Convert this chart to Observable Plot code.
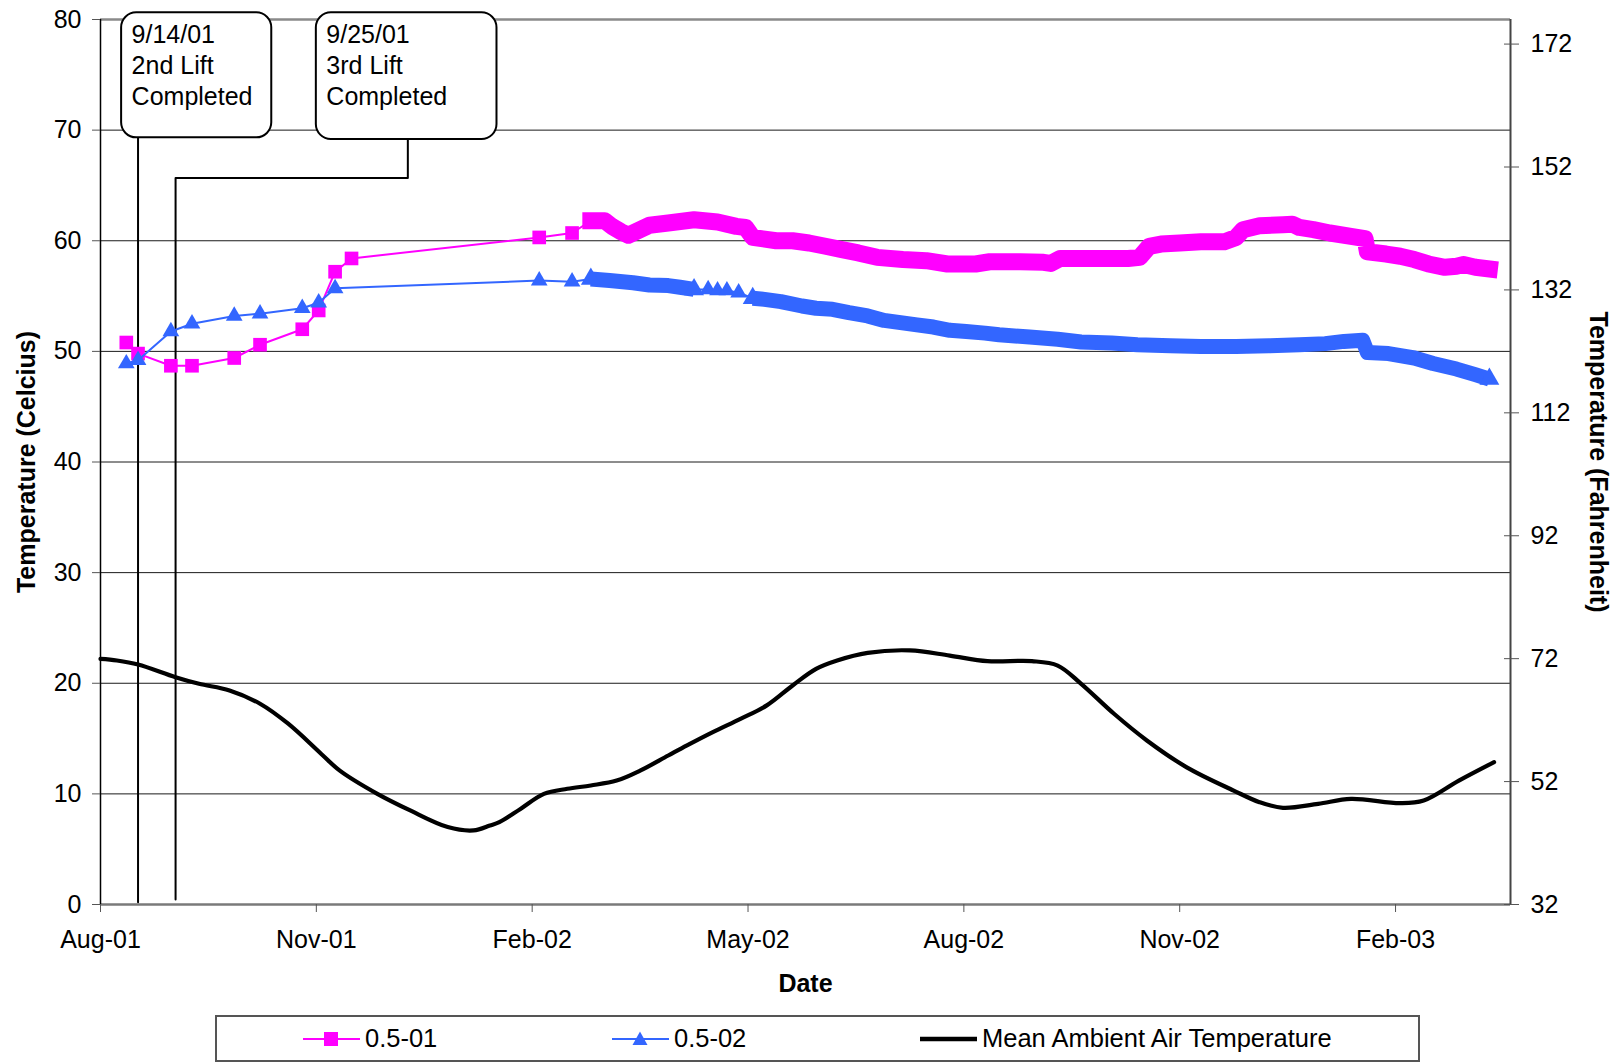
<!DOCTYPE html>
<html><head><meta charset="utf-8">
<script src="https://cdn.jsdelivr.net/npm/d3@7"></script>
<script src="https://cdn.jsdelivr.net/npm/@observablehq/plot@0.6"></script>
<style>
body{margin:0;background:#fff;font-family:"Liberation Sans",Arial,sans-serif;}
#wrap{position:relative;width:1621px;height:1063px;overflow:hidden;}
#chart svg{display:block;overflow:visible;}
#legend{position:absolute;left:215px;top:1015px;width:1205px;height:47px;border:2px solid #555;box-sizing:border-box;}
.item{position:absolute;top:0;height:100%;display:flex;align-items:center;font-size:25.5px;color:#000;white-space:nowrap;font-family:"Liberation Sans",Arial,sans-serif;}
.item svg{margin-right:5px;}
</style></head><body><div id="wrap"><div id="chart"></div><div id="legend"></div></div>
<script>
// ---------- data ----------
const xDomain = ["2001-08-01", "2003-03-25"];
const xTickDates = ["2001-08-01","2001-11-01","2002-02-01","2002-05-04","2002-08-04","2002-11-04","2003-02-04"];
const xTickLabels = ["Aug-01","Nov-01","Feb-02","May-02","Aug-02","Nov-02","Feb-03"];
const yTicks = [0,10,20,30,40,50,60,70,80];
const fahrenheitTicks = [32,52,72,92,112,132,152,172];

const pinkEarlyDates = ["2001-08-12","2001-08-17","2001-08-31","2001-09-09","2001-09-27","2001-10-08","2001-10-26","2001-11-02","2001-11-09","2001-11-16","2002-02-04","2002-02-18"];
const pinkEarlyValues = [50.8,49.8,48.7,48.7,49.4,50.6,52.0,53.7,57.2,58.4,60.3,60.7];
const pinkDenseDates = ["2002-02-26","2002-03-04","2002-03-07","2002-03-11","2002-03-14","2002-03-18","2002-03-23","2002-03-31","2002-04-11","2002-04-21","2002-04-29","2002-05-03","2002-05-06","2002-05-16","2002-05-23","2002-05-30","2002-06-06","2002-06-13","2002-06-20","2002-06-28","2002-07-09","2002-07-19","2002-07-28","2002-08-09","2002-08-15","2002-08-28","2002-09-07","2002-09-10","2002-09-14","2002-09-23","2002-10-01","2002-10-13","2002-10-18","2002-10-22","2002-10-27","2002-11-04","2002-11-13","2002-11-23","2002-11-28","2002-12-01","2002-12-08","2002-12-18","2002-12-22","2002-12-25","2002-12-31","2003-01-07","2003-01-16","2003-01-22","2003-01-23","2003-01-31","2003-02-06","2003-02-12","2003-02-18","2003-02-25","2003-03-02","2003-03-05","2003-03-10","2003-03-16"];
const pinkDenseValues = [61.8,61.8,61.3,60.8,60.5,60.9,61.4,61.6,61.9,61.7,61.3,61.2,60.3,60.0,60.0,59.8,59.5,59.2,58.9,58.5,58.3,58.2,57.9,57.9,58.1,58.1,58.05,57.95,58.4,58.4,58.4,58.4,58.5,59.5,59.7,59.8,59.9,59.9,60.3,61.0,61.35,61.45,61.5,61.2,61.0,60.7,60.4,60.2,59.0,58.8,58.6,58.3,57.9,57.6,57.7,57.85,57.6,57.45];

const blueEarlyDates = ["2001-08-12","2001-08-17","2001-08-31","2001-09-09","2001-09-27","2001-10-08","2001-10-26","2001-11-02","2001-11-09","2002-02-04","2002-02-18"];
const blueEarlyValues = [48.9,49.2,51.8,52.5,53.2,53.4,53.9,54.4,55.7,56.4,56.3];
const blueDenseADates = ["2002-02-26","2002-03-06","2002-03-16","2002-03-23","2002-03-31","2002-04-05","2002-04-11"];
const blueDenseAValues = [56.55,56.4,56.2,56.0,55.95,55.8,55.6];
const blueSparseDates = ["2002-04-17","2002-04-21","2002-04-25","2002-04-30"];
const blueSparseValues = [55.6,55.5,55.5,55.3];
const blueDenseBDates = ["2002-05-06","2002-05-11","2002-05-18","2002-05-27","2002-06-02","2002-06-09","2002-06-16","2002-06-24","2002-07-01","2002-07-08","2002-07-15","2002-07-22","2002-07-29","2002-08-05","2002-08-13","2002-08-19","2002-09-01","2002-09-13","2002-09-23","2002-10-06","2002-10-17","2002-10-31","2002-11-13","2002-11-28","2002-12-12","2002-12-25","2003-01-05","2003-01-13","2003-01-21","2003-01-23","2003-02-01","2003-02-12","2003-02-20","2003-03-02","2003-03-10","2003-03-16"];
const blueDenseBValues = [54.8,54.7,54.5,54.1,53.9,53.8,53.5,53.2,52.8,52.6,52.4,52.2,51.9,51.8,51.65,51.5,51.3,51.1,50.85,50.75,50.6,50.5,50.45,50.45,50.5,50.6,50.7,50.9,51.0,49.9,49.8,49.4,48.9,48.4,47.9,47.5];

const ambientDates = ["2001-08-01","2001-08-08","2001-08-17","2001-09-02","2001-09-12","2001-09-25","2001-10-08","2001-10-20","2001-11-03","2001-11-11","2001-11-27","2001-12-11","2001-12-27","2002-01-07","2002-01-14","2002-01-18","2002-01-27","2002-02-06","2002-02-16","2002-02-26","2002-03-09","2002-03-19","2002-03-31","2002-04-08","2002-04-19","2002-05-01","2002-05-12","2002-05-23","2002-06-02","2002-06-11","2002-06-24","2002-07-12","2002-07-29","2002-08-14","2002-09-02","2002-09-13","2002-09-23","2002-10-07","2002-10-21","2002-11-07","2002-11-27","2002-12-08","2002-12-18","2003-01-02","2003-01-16","2003-02-06","2003-02-16","2003-03-03","2003-03-18"];
const ambientValues = [22.2,22.06,21.7,20.55,19.95,19.35,18.15,16.34,13.63,12.1,10.0,8.5,7.0,6.7,7.14,7.44,8.64,10.0,10.46,10.76,11.2,12.1,13.47,14.38,15.58,16.8,18.0,19.8,21.3,22.06,22.75,22.97,22.5,22.0,22.0,21.6,19.95,17.24,14.83,12.4,10.3,9.25,8.74,9.1,9.55,9.16,9.4,11.2,12.87];

const calloutLabels = ["9/14/01\n2nd Lift\nCompleted", "9/25/01\n3rd Lift\nCompleted"];
const calloutStart = ["2001-08-10", "2001-11-01"];
const calloutEnd = ["2001-10-13", "2002-01-17"];
const calloutBottom = [69.3, 69.15];
const calloutTop = [80.6, 80.6];
const leader1Dates = ["2001-08-17","2001-08-17"];
const leader1Values = [69.3, 0.2];
const leader2Dates = ["2001-12-10","2001-12-10","2001-09-02","2001-09-02"];
const leader2Values = [69.15, 65.67, 65.67, 0.45];

const seriesNames = ["0.5-01", "0.5-02", "Mean Ambient Air Temperature"];
const seriesColors = ["#FF00FF", "#3366FF", "#000000"];

// ---------- build ----------
const P = s => new Date(s + "T00:00:00Z");
const rows = (ds, vs, id) => ds.map((d, i) => ({date: P(d), value: vs[i], id}));
const pinkEarly = rows(pinkEarlyDates, pinkEarlyValues);
const pinkDense = rows(pinkDenseDates, pinkDenseValues);
const blueEarly = rows(blueEarlyDates, blueEarlyValues);
const blueA = rows(blueDenseADates, blueDenseAValues, "A");
const blueSparse = rows(blueSparseDates, blueSparseValues);
const blueB = rows(blueDenseBDates, blueDenseBValues, "B");
const ambient = rows(ambientDates, ambientValues);
const leaders = [...rows(leader1Dates, leader1Values, 1), ...rows(leader2Dates, leader2Values, 2)];
const callouts = calloutLabels.map((l, i) => ({label: l, x1: P(calloutStart[i]), x2: P(calloutEnd[i]), y1: calloutBottom[i], y2: calloutTop[i]}));
const pinkAll = [...pinkEarly, ...pinkDense];
const blueAll = [...blueEarly, ...blueA, ...blueSparse, ...blueB];
const blueEnds = [blueA[0], blueA[blueA.length-1], blueB[0], blueB[blueB.length-1]];
const labelByTime = new Map(xTickDates.map((d, i) => [+P(d), xTickLabels[i]]));
const x0 = P(xDomain[0]), x1 = P(xDomain[1]);
const fC = fahrenheitTicks.map(f => (f - 32) * 5 / 9);
const font = '"Liberation Sans", Arial, sans-serif';

const chart = Plot.plot({
  width: 1621, height: 1008,
  marginLeft: 100, marginRight: 111, marginTop: 19, marginBottom: 104,
  x: {type: "utc", domain: [x0, x1]},
  y: {domain: [0, 80]},
  style: {fontFamily: font, fontSize: "25px", color: "black", background: "white", overflow: "visible"},
  marks: [
    Plot.gridY(yTicks.filter(v => v > 0 && v < 80), {stroke: "#1a1a1a", strokeOpacity: 1, strokeWidth: 1}),
    Plot.ruleY([80], {stroke: "#8a8a8a", strokeWidth: 2.5}),
    Plot.ruleY([0], {stroke: "#7a7a7a", strokeWidth: 2.5}),
    Plot.ruleX([x0], {stroke: "#000", strokeWidth: 1.5}),
    Plot.ruleX([x1], {stroke: "#444", strokeWidth: 2}),
    Plot.axisY(yTicks, {anchor: "left", tickSize: 8, tickPadding: 11, fontSize: 25, label: null, stroke: "#555"}),
    Plot.axisY(fC, {anchor: "right", tickSize: 8, tickPadding: 12, fontSize: 25, label: null, stroke: "#555", tickFormat: c => Math.round(c * 9 / 5 + 32)}),
    Plot.axisY(fC, {anchor: "right", tickSize: 7, dx: -7, fontSize: 25, label: null, stroke: "#555", tickFormat: () => ""}),
    Plot.axisX(xTickDates.map(P), {anchor: "bottom", tickSize: 8, tickPadding: 18, fontSize: 25, label: null, stroke: "#555", tickFormat: d => labelByTime.get(+d)}),
    Plot.text(["Temperature (Celcius)"], {frameAnchor: "left", textAnchor: "middle", lineAnchor: "middle", dx: -74, rotate: -90, fontWeight: "bold", fontSize: 25}),
    Plot.text(["Temperature (Fahrenheit)"], {frameAnchor: "right", textAnchor: "middle", lineAnchor: "middle", dx: 87, rotate: 90, fontWeight: "bold", fontSize: 25}),
    Plot.text(["Date"], {frameAnchor: "bottom", textAnchor: "middle", lineAnchor: "middle", dy: 79, fontWeight: "bold", fontSize: 25}),
    // callouts
    Plot.line(leaders, {x: "date", y: "value", z: "id", stroke: "black", strokeWidth: 2}),
    Plot.rect(callouts, {x1: "x1", x2: "x2", y1: "y1", y2: "y2", fill: "white", stroke: "black", strokeWidth: 2, rx: 15}),
    Plot.text(callouts, {x: "x1", y: "y2", text: "label", textAnchor: "start", lineAnchor: "top", dx: 10, dy: 8, fontSize: 25, lineHeight: 1.24, fill: "black"}),
    // 0.5-01
    Plot.line(pinkAll, {x: "date", y: "value", stroke: seriesColors[0], strokeWidth: 2}),
    Plot.line(pinkDense, {x: "date", y: "value", stroke: seriesColors[0], strokeWidth: 17, strokeLinecap: "square", strokeLinejoin: "round"}),
    Plot.dot(pinkEarly, {x: "date", y: "value", symbol: "square", r: 7.7, fill: seriesColors[0], stroke: "none"}),
    // 0.5-02
    Plot.line(blueAll, {x: "date", y: "value", stroke: seriesColors[1], strokeWidth: 2}),
    Plot.line([...blueA, ...blueB], {x: "date", y: "value", z: "id", stroke: seriesColors[1], strokeWidth: 15, strokeLinecap: "butt", strokeLinejoin: "round"}),
    Plot.dot([...blueEarly, ...blueSparse], {x: "date", y: "value", symbol: "triangle", r: 6.2, fill: seriesColors[1], stroke: "none"}),
    Plot.dot(blueEnds, {x: "date", y: "value", symbol: "triangle", r: 7.4, fill: seriesColors[1], stroke: "none"}),
    // ambient
    Plot.line(ambient, {x: "date", y: "value", stroke: seriesColors[2], strokeWidth: 4.2, curve: "catmull-rom"})
  ]
});
document.getElementById("chart").appendChild(chart);

// legend
const legend = document.getElementById("legend");
const itemLeft = [86, 395, 703];
seriesNames.forEach((name, i) => {
  const div = document.createElement("div");
  div.className = "item";
  div.style.left = itemLeft[i] + "px";
  const c = seriesColors[i];
  let marker = "";
  if (i === 0) marker = `<rect x="21" y="4" width="14" height="14" fill="${c}"/>`;
  if (i === 1) marker = `<path d="M28,3.5 L35.5,17 L20.5,17 Z" fill="${c}"/>`;
  const sw = i === 2 ? 4.5 : 2;
  div.innerHTML = `<svg width="57" height="22"><line x1="0" x2="57" y1="11" y2="11" stroke="${c}" stroke-width="${sw}"/>${marker}</svg><span>${name}</span>`;
  legend.appendChild(div);
});
</script></body></html>
